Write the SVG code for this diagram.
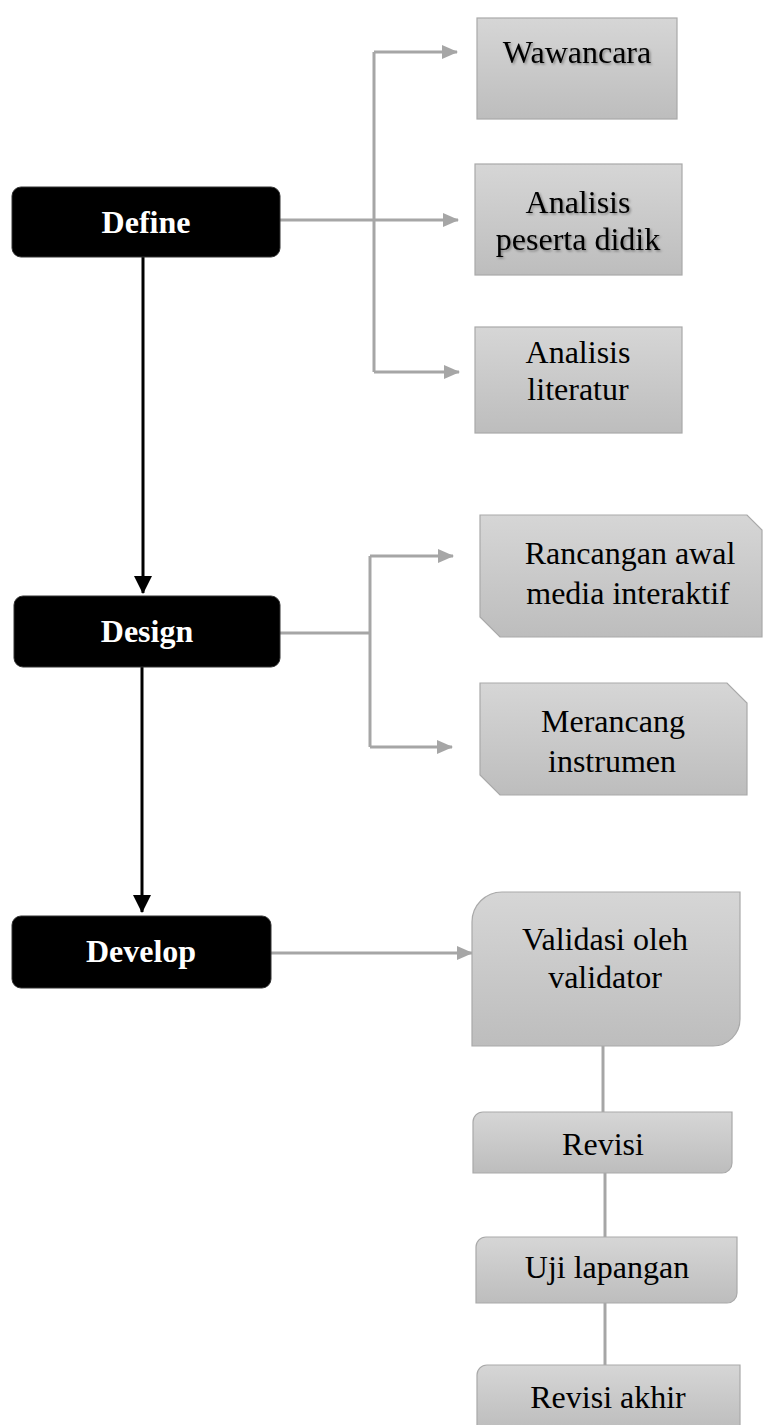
<svg xmlns="http://www.w3.org/2000/svg" width="767" height="1425" viewBox="0 0 767 1425">
<style>
.phase{fill:#000;stroke:#333;stroke-width:1}
.ptxt{font-family:"Liberation Serif","Times New Roman",serif;font-weight:bold;font-size:32px;fill:#fff;text-anchor:middle}
.box{fill:url(#g);stroke:#a9a9a9;stroke-width:1.2}
.txt{font-family:"Liberation Serif","Times New Roman",serif;font-size:32px;fill:#000;text-anchor:middle}
.gl{fill:none;stroke:#a6a6a6;stroke-width:3}
.bl{fill:none;stroke:#000;stroke-width:3}
</style>
<defs>
<linearGradient id="g" x1="0" y1="0" x2="0" y2="1">
<stop offset="0" stop-color="#d6d6d6"/>
<stop offset="1" stop-color="#bdbdbd"/>
</linearGradient>
<filter id="ts" x="-10%" y="-30%" width="120%" height="160%">
<feDropShadow dx="1.5" dy="1.5" stdDeviation="1" flood-color="#000" flood-opacity="0.35"/>
</filter>
<marker id="ga" markerWidth="16" markerHeight="14" refX="15" refY="7" orient="auto" markerUnits="userSpaceOnUse">
<path d="M0,0 L16,7 L0,14 Z" fill="#a6a6a6"/>
</marker>
<marker id="ba" markerWidth="18" markerHeight="18" refX="17" refY="9" orient="auto" markerUnits="userSpaceOnUse">
<path d="M0,0 L18,9 L0,18 Z" fill="#000"/>
</marker>
</defs>

<g id="connectors">
<path class="bl" d="M143,257 V593" marker-end="url(#ba)"/>
<path class="bl" d="M142,667 V912" marker-end="url(#ba)"/>
<path class="gl" d="M280,220 H458" marker-end="url(#ga)"/>
<path class="gl" d="M374,52 V372"/>
<path class="gl" d="M374,52 H457" marker-end="url(#ga)"/>
<path class="gl" d="M374,372 H459" marker-end="url(#ga)"/>
<path class="gl" d="M280,633 H370"/>
<path class="gl" d="M370,556 V747"/>
<path class="gl" d="M370,556 H453" marker-end="url(#ga)"/>
<path class="gl" d="M370,747 H452" marker-end="url(#ga)"/>
<path class="gl" d="M271,953 H472" marker-end="url(#ga)"/>
<path class="gl" d="M603,1046 V1112"/>
<path class="gl" d="M605,1173 V1237"/>
<path class="gl" d="M605,1303 V1365"/>
</g>

<g id="define">
<rect class="phase" x="12" y="187" width="268" height="70" rx="9"/>
<text class="ptxt" x="146" y="233">Define</text>
</g>
<g id="design">
<rect class="phase" x="14" y="596" width="266" height="71" rx="9"/>
<text class="ptxt" x="147" y="642">Design</text>
</g>
<g id="develop">
<rect class="phase" x="12" y="916" width="259" height="72" rx="9"/>
<text class="ptxt" x="141" y="962">Develop</text>
</g>

<g id="wawancara">
<rect class="box" x="477" y="18" width="200" height="101"/>
<text class="txt" x="577" y="63" filter="url(#ts)">Wawancara</text>
</g>
<g id="analisis-peserta">
<rect class="box" x="475" y="164" width="207" height="111"/>
<text class="txt" x="578" y="213" filter="url(#ts)">Analisis</text>
<text class="txt" x="578" y="250" filter="url(#ts)">peserta didik</text>
</g>
<g id="analisis-literatur">
<rect class="box" x="475" y="327" width="207" height="106"/>
<text class="txt" x="578" y="363">Analisis</text>
<text class="txt" x="578" y="400">literatur</text>
</g>

<g id="rancangan">
<path class="box" d="M480,515 H747 L762,530 V637 H500 L480,617 Z"/>
<text class="txt" x="630" y="564">Rancangan awal</text>
<text class="txt" x="628" y="604">media interaktif</text>
</g>
<g id="merancang">
<path class="box" d="M480,683 H727 L747,703 V795 H500 L480,775 Z"/>
<text class="txt" x="613" y="732">Merancang</text>
<text class="txt" x="612" y="772">instrumen</text>
</g>

<g id="validasi">
<path class="box" d="M502,892 H740 V1019 A27,27 0 0 1 713,1046 H472 V922 A30,30 0 0 1 502,892 Z"/>
<text class="txt" x="605" y="950">Validasi oleh</text>
<text class="txt" x="605" y="988">validator</text>
</g>
<g id="revisi">
<path class="box" d="M483,1112 H732 V1163 A10,10 0 0 1 722,1173 H473 V1122 A10,10 0 0 1 483,1112 Z"/>
<text class="txt" x="603" y="1155">Revisi</text>
</g>
<g id="uji-lapangan">
<path class="box" d="M486,1237 H737 V1293 A10,10 0 0 1 727,1303 H476 V1247 A10,10 0 0 1 486,1237 Z"/>
<text class="txt" x="607" y="1278">Uji lapangan</text>
</g>
<g id="revisi-akhir">
<path class="box" d="M487,1365 H740 V1430 H477 V1375 A10,10 0 0 1 487,1365 Z"/>
<text class="txt" x="608" y="1408">Revisi akhir</text>
</g>
</svg>
